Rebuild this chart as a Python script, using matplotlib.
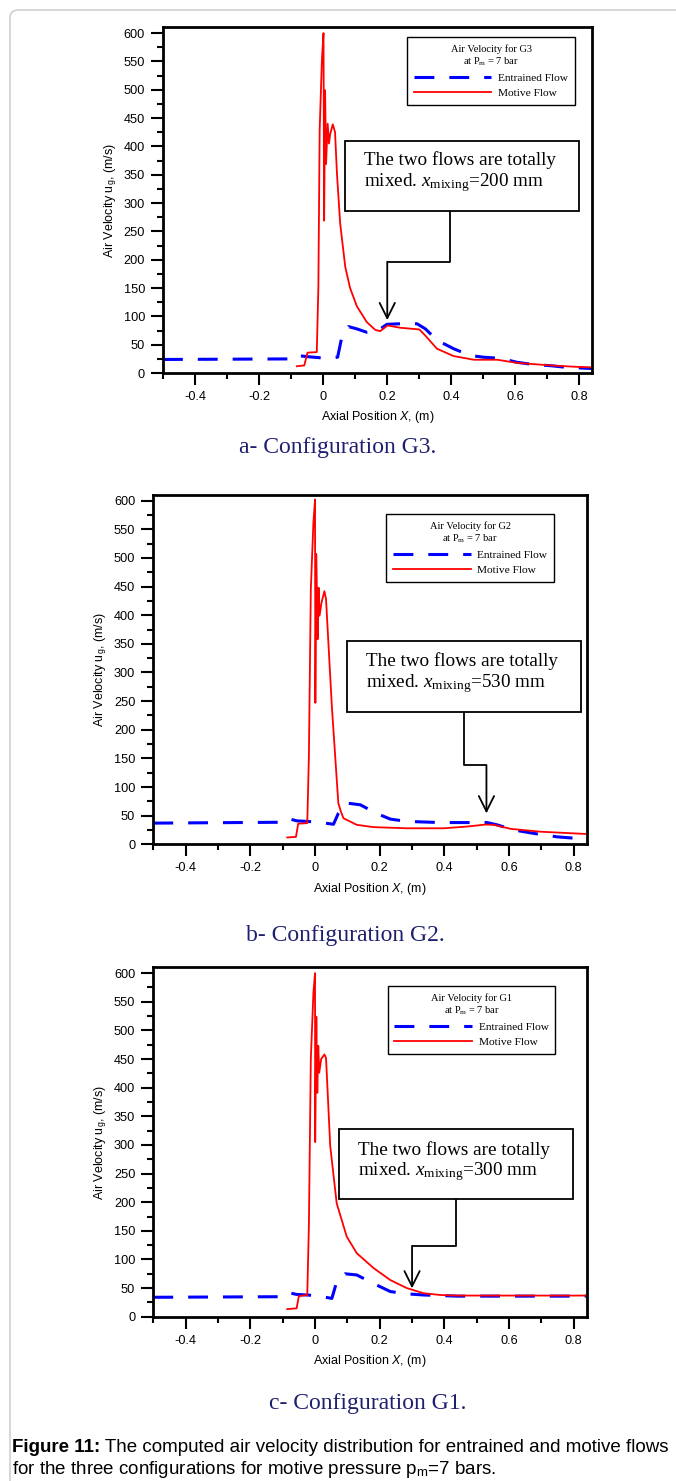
import matplotlib
matplotlib.use("Agg")
import matplotlib.pyplot as plt
from matplotlib.patches import Rectangle, FancyBboxPatch
from matplotlib.ticker import MultipleLocator, FuncFormatter

plt.rcParams['font.family'] = ['Liberation Sans', 'DejaVu Sans']
plt.rcParams['mathtext.fontset'] = 'custom'
plt.rcParams['mathtext.rm'] = 'Liberation Serif'
plt.rcParams['mathtext.it'] = 'Liberation Serif:italic'
plt.rcParams['mathtext.bf'] = 'Liberation Sans:bold'
plt.rcParams['mathtext.sf'] = 'Liberation Sans'
plt.rcParams['mathtext.cal'] = 'Liberation Sans:italic'

# ---- data (x in m, velocity in m/s) ----
configs = ["G3", "G2", "G1"]
panel_tags = ["a", "b", "c"]
mixing_mm = [200, 530, 300]

x_g3_entr = [-0.5, -0.093, -0.082, -0.05, 0.011, 0.045, 0.058, 0.079, 0.105, 0.136, 0.168,
             0.199, 0.24, 0.293, 0.319, 0.355, 0.407, 0.459, 0.50, 0.553, 0.605, 0.657,
             0.71, 0.76, 0.803, 0.84]
y_g3_entr = [24, 25, 31, 29, 26, 28, 63, 82, 78, 72, 74, 86, 87, 87, 78, 58, 43, 31, 28, 26,
             19, 15, 13, 10, 9, 8]
x_g3_mot = [-0.082, -0.059, -0.049, -0.02, -0.015, -0.011, -0.004, 0.001, 0.003, 0.006, 0.009,
            0.014, 0.018, 0.022, 0.030, 0.037, 0.043, 0.053, 0.069, 0.084, 0.105, 0.136, 0.163,
            0.178, 0.201, 0.24, 0.30, 0.319, 0.355, 0.407, 0.47, 0.543, 0.605, 0.71, 0.803, 0.84]
y_g3_mot = [12, 13.5, 36, 37, 152, 428, 552, 600, 269, 499, 369, 440, 405, 422, 439, 425, 352,
            264, 187, 150, 118, 90, 76, 74, 84, 80, 77, 66, 43, 30, 23.5, 23.5, 18, 13.5, 10.6, 10]

x_g2_entr = [-0.5, -0.109, -0.086, -0.057, 0.005, 0.057, 0.072, 0.098, 0.14, 0.19, 0.233, 0.284,
             0.388, 0.532, 0.563, 0.615, 0.677, 0.749, 0.84]
y_g2_entr = [37, 38.5, 45.5, 41, 39, 35, 54, 72, 69, 54, 44, 40, 38, 38, 34, 25, 19, 13, 9]
x_g2_mot = [-0.086, -0.059, -0.052, -0.024, -0.019, -0.013, -0.005, 0.0, 0.001, 0.004, 0.008,
            0.011, 0.014, 0.02, 0.029, 0.034, 0.052, 0.072, 0.08, 0.088, 0.129, 0.181, 0.284,
            0.398, 0.47, 0.527, 0.553, 0.605, 0.698, 0.84]
y_g2_mot = [12, 13, 36, 37, 153, 445, 562, 602, 247, 507, 358, 448, 399, 422, 442, 428, 241, 72,
            57, 45.5, 34, 30, 28, 28, 31, 34.5, 34, 27, 22, 18]

x_g1_entr = [-0.5, -0.109, -0.086, -0.057, 0.005, 0.052, 0.067, 0.093, 0.129, 0.181, 0.233,
             0.284, 0.336, 0.44, 0.84]
y_g1_entr = [34, 35, 42.6, 39, 37, 32, 61, 75, 73, 58, 44, 40, 38, 36, 36]
x_g1_mot = [-0.086, -0.057, -0.05, -0.024, -0.019, -0.013, -0.005, 0.0, 0.0005, 0.004, 0.007,
            0.01, 0.013, 0.019, 0.029, 0.034, 0.047, 0.067, 0.098, 0.129, 0.181, 0.233, 0.284,
            0.336, 0.388, 0.44, 0.84]
y_g1_mot = [13.4, 14.6, 36, 38, 158, 450, 566, 600, 305, 524, 391, 473, 426, 450, 458, 452, 298,
            198, 140, 111, 85, 64, 50, 41, 38, 37, 37]

entrained = [(x_g3_entr, y_g3_entr), (x_g2_entr, y_g2_entr), (x_g1_entr, y_g1_entr)]
motive = [(x_g3_mot, y_g3_mot), (x_g2_mot, y_g2_mot), (x_g1_mot, y_g1_mot)]

# ---- layout (figure / axes fractions) ----
W, H = 676, 1481
axes_rects = [[0.2411, 0.7481, 0.6351, 0.2334],
              [0.2268, 0.4299, 0.6411, 0.2359],
              [0.2268, 0.1109, 0.6411, 0.2359]]
legend_anchor = [(0.960, 0.971), (0.925, 0.945), (0.928, 0.9465)]
box_rects = [(0.424, 0.4686, 0.969, 0.672),
             (0.446, 0.3796, 0.986, 0.583),
             (0.429, 0.336, 0.968, 0.537)]
text_pos = [(0.469, 0.580), (0.491, 0.4885), (0.4716, 0.4425)]
stem_x = [0.395, 0.462, 0.437]
mid_y = [0.322, 0.227, 0.203]
tip_y = [0.153, 0.0887, 0.0813]
caption_xy = [(338, 448), (345, 936), (368, 1403)]
navy = '#1f1f70'

fig = plt.figure(figsize=(W / 100, H / 100), dpi=100)

# light rounded frame of the page
fig.patches.append(FancyBboxPatch((0.1, -0.5), 8.0, H / 100 - 0.1 + 0.5,
                                  boxstyle="round,pad=0,rounding_size=0.08",
                                  transform=fig.dpi_scale_trans, fc='none',
                                  ec='#c8c8c8', lw=1.0, figure=fig))

fmt = FuncFormatter(lambda v, p: "0" if abs(v) < 1e-9 else f"{v:g}")

for i in range(3):
    ax = fig.add_axes(axes_rects[i])
    xe, ye = entrained[i]
    xm, ym = motive[i]
    ax.plot(xe, ye, color='#0000ff', lw=2.2, dashes=(6.5, 4.9), label='Entrained Flow')
    ax.plot(xm, ym, color='#ff0000', lw=1.3, label='Motive Flow')

    ax.set_xlim(-0.5, 0.84)
    ax.set_ylim(0, 610)
    ax.xaxis.set_major_locator(MultipleLocator(0.2))
    ax.xaxis.set_minor_locator(MultipleLocator(0.1))
    ax.yaxis.set_major_locator(MultipleLocator(50))
    ax.yaxis.set_minor_locator(MultipleLocator(25))
    ax.xaxis.set_major_formatter(fmt)
    ax.tick_params(which='major', direction='out', length=8.5, width=1.5,
                   labelsize=9.2, pad=4.5, top=False, right=False)
    ax.tick_params(which='minor', direction='out', length=4.3, width=1.5,
                   top=False, right=False)
    for s in ax.spines.values():
        s.set_linewidth(2.0)

    ax.set_xlabel(r"Axial Position $\mathcal{X}$, (m)", fontsize=9)
    ax.set_ylabel(r"Air Velocity u$_\mathsf{g}$, (m/s)", fontsize=9)
    ax.xaxis.set_label_coords(0.5, -0.104)
    ax.yaxis.set_label_coords(-0.103, 0.5)

    leg = ax.legend(loc='upper right', bbox_to_anchor=legend_anchor[i], borderaxespad=0,
                    title="Air Velocity for %s\nat P$_\\mathrm{m}$ = 7 bar" % configs[i],
                    prop={'family': 'Liberation Serif', 'size': 8.2},
                    title_fontproperties={'family': 'Liberation Serif', 'size': 7.5},
                    fancybox=False, edgecolor='black', framealpha=1,
                    handlelength=6.8, handletextpad=0.6, labelspacing=0.45, borderpad=0.6)
    leg.get_frame().set_linewidth(1.0)
    leg.get_title().set_multialignment('center')

    # annotation box and connector
    bx0, by0, bx1, by1 = box_rects[i]
    ax.add_patch(Rectangle((bx0, by0), bx1 - bx0, by1 - by0, transform=ax.transAxes,
                           fc='white', ec='black', lw=1.3, zorder=5))
    ax.text(text_pos[i][0], text_pos[i][1],
            "The two flows are totally\nmixed. $x_{\\mathrm{mixing}}$=%d mm" % mixing_mm[i],
            transform=ax.transAxes, ha='left', va='center', family='Liberation Serif',
            fontsize=13.8, linespacing=1.1, zorder=6)
    trans = ax.get_xaxis_transform()
    xmix = mixing_mm[i] / 1000.0
    ax.plot([stem_x[i], stem_x[i], xmix], [by0, mid_y[i], mid_y[i]], color='black', lw=1.3,
            transform=trans, zorder=6, solid_capstyle='butt')
    ax.annotate('', xy=(xmix, tip_y[i]), xytext=(xmix, mid_y[i]), xycoords=trans,
                textcoords=trans,
                arrowprops=dict(arrowstyle='->,head_length=1.1,head_width=0.55', color='black',
                                lw=1.3, mutation_scale=10, shrinkA=0, shrinkB=0), zorder=6)

    cx, cy = caption_xy[i]
    fig.text(cx / W, 1 - cy / H, "%s- Configuration %s." % (panel_tags[i], configs[i]),
             ha='center', va='center', family='Liberation Serif', fontsize=17, color=navy)

# figure caption: bold lead-in followed by regular text
cap_size = 13.5
lead = fig.text(12 / W, 1 - 1447 / H, "Figure 11:", ha='left', va='center',
                fontsize=cap_size, fontweight='bold')
renderer = fig.canvas.get_renderer()
lead_w = lead.get_window_extent(renderer).width
fig.text((12 + lead_w) / W, 1 - 1447 / H,
         " The computed air velocity distribution for entrained and motive flows",
         ha='left', va='center', fontsize=cap_size)
fig.text(12 / W, 1 - 1470 / H,
         r"for the three configurations for motive pressure p$_\mathsf{m}$=7 bars.",
         ha='left', va='center', fontsize=cap_size)

fig.savefig("out.png", dpi=100)
